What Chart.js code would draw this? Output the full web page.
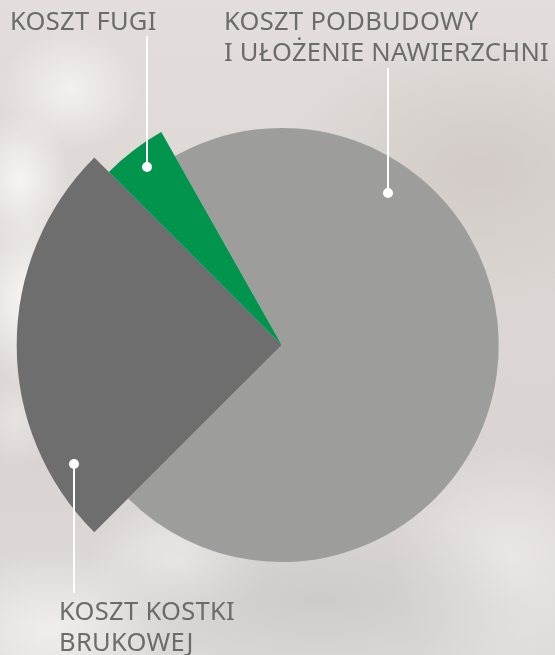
<!DOCTYPE html>
<html>
<head>
<meta charset="utf-8">
<script src="https://cdn.jsdelivr.net/npm/chart.js@4/dist/chart.umd.min.js"></script>
<style>
  html, body { margin:0; padding:0; width:555px; height:655px; overflow:hidden; }
  body {
    position:relative;
    background:
      radial-gradient(ellipse 60px 90px at 30px 300px, rgba(252,251,250,0.9), rgba(252,251,250,0) 100%),
      radial-gradient(ellipse 50px 70px at 20px 180px, rgba(250,248,247,0.85), rgba(250,248,247,0) 100%),
      radial-gradient(ellipse 70px 60px at 70px 90px, rgba(246,243,241,0.85), rgba(246,243,241,0) 100%),
      radial-gradient(ellipse 40px 50px at 15px 420px, rgba(232,228,226,0.9), rgba(232,228,226,0) 100%),
      radial-gradient(ellipse 200px 140px at 480px 170px, rgba(205,198,194,0.75), rgba(205,198,194,0) 100%),
      radial-gradient(ellipse 220px 90px at 320px 600px, rgba(198,194,193,0.6), rgba(198,194,193,0) 100%),
      radial-gradient(ellipse 120px 120px at 510px 560px, rgba(236,232,230,0.9), rgba(236,232,230,0) 100%),
      radial-gradient(ellipse 120px 80px at 50px 630px, rgba(242,239,237,0.9), rgba(242,239,237,0) 100%),
      radial-gradient(ellipse 90px 60px at 180px 560px, rgba(238,235,233,0.9), rgba(238,235,233,0) 100%),
      linear-gradient(180deg, #e3dedb 0%, #ddd7d4 40%, #d9d4d2 70%, #dedad8 100%);
    font-family: "Noto Sans", "Open Sans", sans-serif;
  }
  #c { position:absolute; left:0; top:0; }
  .lbl { position:absolute; color:#6b6b6b; font-size:25.5px; line-height:31px; white-space:nowrap; letter-spacing:0.3px; }
  .ln { position:absolute; width:2px; background:#ffffff; }
  .dot { position:absolute; width:10px; height:10px; border-radius:50%; background:#ffffff; }
</style>
</head>
<body>
<canvas id="c" width="555" height="655"></canvas>
<div class="lbl" id="l1" style="left:10px; top:4.5px;">KOSZT FUGI</div>
<div class="lbl" id="l2" style="left:224px; top:4.5px;">KOSZT PODBUDOWY<br>I UŁOŻENIE NAWIERZCHNI</div>
<div class="lbl" id="l3" style="left:59px; top:594.5px;">KOSZT KOSTKI<br>BRUKOWEJ</div>
<div class="ln" style="left:146px; top:36px; height:130px;"></div>
<div class="dot" style="left:142px; top:162px;"></div>
<div class="ln" style="left:387px; top:68px; height:125px;"></div>
<div class="dot" style="left:383px; top:188px;"></div>
<div class="ln" style="left:73px; top:464px; height:129px;"></div>
<div class="dot" style="left:69px; top:459px;"></div>
<script>
const categories = ["KOSZT PODBUDOWY I UŁOŻENIE NAWIERZCHNI", "KOSZT KOSTKI BRUKOWEJ", "KOSZT FUGI"];
const values = [70.7, 25, 4.3];
const radiusScale = [0.819, 1.0, 0.923];
const colors = ["#9d9d9c", "#6e6e6e", "#00944c"];

const varRadius = {
  id: 'varRadius',
  afterDatasetsUpdate(chart) {
    const meta = chart.getDatasetMeta(0);
    meta.data.forEach((arc, i) => {
      arc.outerRadius = arc.outerRadius * radiusScale[i];
    });
  }
};

new Chart(document.getElementById('c'), {
  type: 'pie',
  data: {
    labels: categories,
    datasets: [{
      data: values,
      backgroundColor: colors,
      borderWidth: 0
    }]
  },
  options: {
    responsive: false,
    animation: false,
    events: [],
    rotation: -29.5,
    radius: 265,
    layout: { padding: { left: 8.4, right: 0, top: 35, bottom: 0 } },
    plugins: { legend: { display: false }, tooltip: { enabled: false } }
  },
  plugins: [varRadius]
});
</script>
</body>
</html>
